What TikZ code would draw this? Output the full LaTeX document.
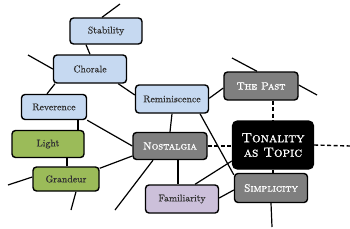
\documentclass[tikz,border=0pt]{standalone}
\usepackage{fontspec}
\usepackage{xcolor}
\usepackage{tikz}
\usetikzlibrary{positioning, backgrounds, calc}
\newfontfamily\heavycaps{lmromancaps10-regular.otf}[FakeBold=1.2]
\newfontfamily\softroman{lmroman10-regular.otf}[FakeBold=0.4]
\definecolor{topicblue}{RGB}{198,217,241}
\definecolor{topicgreen}{RGB}{155,187,89}
\definecolor{topicgray}{RGB}{127,127,127}
\definecolor{topicpurple}{RGB}{204,192,218}
\tikzstyle{basebox} = [rectangle, rounded corners=3.5pt, line width=1.4pt, draw=black, text centered, inner sep=2pt, font=\softroman\fontsize{9.8}{11}\selectfont]
\tikzstyle{bluebox} = [basebox, fill=topicblue, text=black!80]
\tikzstyle{greenbox} = [basebox, fill=topicgreen, text=black!80]
\tikzstyle{purplebox} = [basebox, fill=topicpurple, text=black!80]
\tikzstyle{graybox} = [basebox, fill=topicgray, text=white, font=\heavycaps\fontsize{10.5}{12}\selectfont]
\tikzstyle{topicbox} = [basebox, rounded corners=5pt, fill=black, text=white, align=center, font=\heavycaps\fontsize{13.5}{14.5}\selectfont]
\tikzstyle{link} = [line width=1.2pt, black]
\tikzstyle{dashlink} = [line width=1.4pt, black, dash pattern=on 4pt off 2.5pt]

\begin{document}
\begin{tikzpicture}[x=1pt, y=-1pt]
  \useasboundingbox (0,0) rectangle (350,228);

  \node (stab) [bluebox, minimum width=72pt, minimum height=26pt] at (106,31) {Stability};
  \node (chor) [bluebox, minimum width=73pt, minimum height=28pt] at (90,69) {Chorale};
  \node (rev) [bluebox, minimum width=65pt, minimum height=25pt] at (54,107) {Reverence};
  \node (remi) [bluebox, minimum width=73pt, minimum height=28pt] at (172,99) {Reminiscence};
  \node (past) [graybox, minimum width=74pt, minimum height=28pt] at (261,86) {The Past};
  \node (light) [greenbox, minimum width=72pt, minimum height=27pt] at (48,144) {Light};
  \node (grand) [greenbox, minimum width=66pt, minimum height=24pt] at (66,179) {Grandeur};
  \node (nost) [graybox, minimum width=74pt, minimum height=27pt] at (170,146) {Nostalgia};
  \node (ton) [topicbox, minimum width=81pt, minimum height=48pt] at (273,145) {Tonality\\as Topic};
  \node (simp) [graybox, minimum width=73pt, minimum height=29pt] at (271,188) {Simplicity};
  \node (fam) [purplebox, minimum width=73pt, minimum height=28pt] at (182,199) {Familiarity};

  \coordinate (stabend) at (120,4);
  \coordinate (chorend) at (28,55);
  \coordinate (grandleft) at (8,185);
  \coordinate (grandlow) at (71,210);
  \coordinate (nostlow) at (115,210);
  \coordinate (pastleft) at (232,58);
  \coordinate (pastright) at (317,95);
  \coordinate (tonright) at (350,146);
  \coordinate (simplow) at (272,227);

  \begin{pgfonlayer}{background}
    \draw[link] ([xshift=-4pt]stab.north) -- (stabend);
    \draw[link] ([xshift=-20pt]stab.south) -- (chor.north);
    \draw[link] (chorend) -- (chor.west);
    \draw[link] ([xshift=-35pt]chor.south) -- ([xshift=-7pt]rev.north);
    \draw[link] ([xshift=-9pt]chor.south east) -- ([yshift=4pt]remi.west);
    \draw[link] ([xshift=24pt]rev.south) -- ([xshift=24pt]rev.south |- light.north);
    \draw[link] (rev.south east) -- (nost.west);
    \draw[link] ([xshift=1pt]grand.north) -- ([xshift=1pt]grand.north |- light.south);
    \draw[link] ([yshift=-2pt]grand.north east) -- ([yshift=-10pt]nost.west);
    \draw[link] (grandleft) -- ([yshift=2pt]grand.west);
    \draw[link] ([xshift=10pt]grand.south) -- (grandlow);
    \draw[link] ([xshift=-17pt]nost.south) -- (nostlow);
    \draw[link] ([xshift=8pt]nost.south) -- ([xshift=8pt]nost.south |- fam.north);
    \draw[link] ([yshift=-14pt]remi.north east) -- ([yshift=-2pt]past.west);
    \draw[link] (pastleft) -- ([xshift=-4pt]past.north);
    \draw[link] ([yshift=1pt]past.east) -- (pastright);
    \draw[link] (remi.south) -- (nost.north);
    \draw[link] ([xshift=28pt]remi.south) -- ([yshift=-2pt]simp.north west);
    \draw[link] ([xshift=13pt]fam.north) -- ([yshift=-16pt]ton.west);
    \draw[link] ([yshift=1pt]fam.east) -- ([yshift=-2pt]simp.west);
    \draw[link] (ton.south) -- (ton.south |- simp.north);
    \draw[link] (simp.south) -- (simplow);
    \draw[dashlink] (nost.east) -- (nost.east -| ton.west);
    \draw[dashlink] (ton.east) -- (tonright);
    \draw[dashlink] (ton.north |- past.south) -- (ton.north);
  \end{pgfonlayer}
\end{tikzpicture}
\end{document}
